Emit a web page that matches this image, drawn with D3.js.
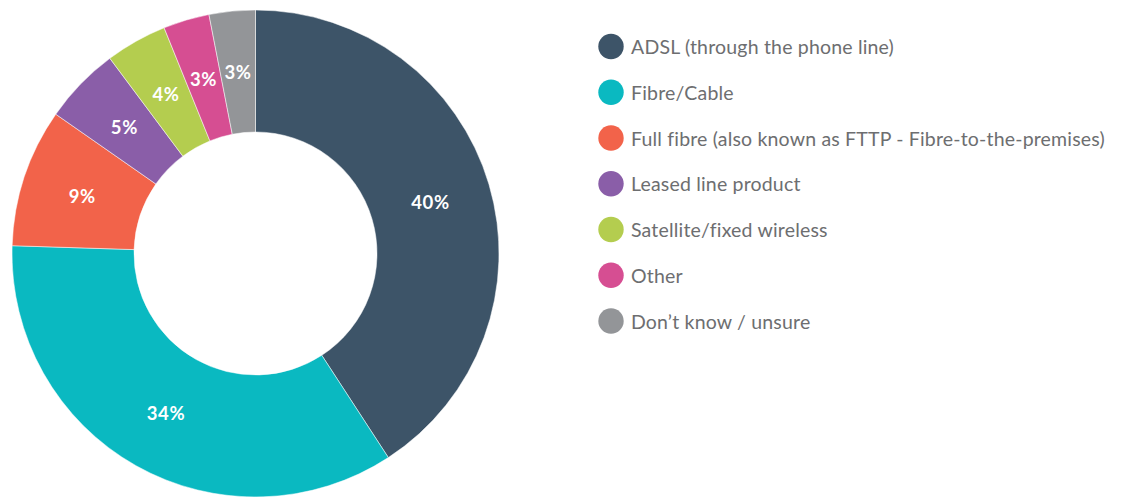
<!DOCTYPE html>
<html>
<head>
<meta charset="utf-8">
<script src="https://cdn.jsdelivr.net/npm/d3@7"></script>
<style>
  html, body { margin: 0; padding: 0; background: #fff; }
  svg { display: block; }
</style>
</head>
<body>
<svg id="chart" width="1122" height="497"></svg>
<script>
// Broadband connection type shares (%)
const categories = [
  "ADSL (through the phone line)",
  "Fibre/Cable",
  "Full fibre (also known as FTTP - Fibre-to-the-premises)",
  "Leased line product",
  "Satellite/fixed wireless",
  "Other",
  "Don\u2019t know / unsure"
];
const values = [40, 34, 9, 5, 4, 3, 3];
const colors = ["#3d5468", "#0ab9c1", "#f2634a", "#8a5ea8", "#b4cd4f", "#d64e92", "#939598"];

const svg = d3.select("#chart");
const cx = 255.5, cy = 253.5;
const outerR = 243.5, innerR = 121.5;

const data = categories.map((c, i) => ({ name: c, value: values[i], color: colors[i] }));

const pie = d3.pie().value(d => d.value).sort(null);
const arc = d3.arc().innerRadius(innerR).outerRadius(outerR);
const arcs = pie(data);

const g = svg.append("g").attr("transform", `translate(${cx},${cy})`);

g.selectAll("path.slice")
  .data(arcs)
  .join("path")
  .attr("class", "slice")
  .attr("d", arc)
  .attr("fill", d => d.data.color)
  .attr("stroke", "#ffffff")
  .attr("stroke-width", 0.5);

g.selectAll("text.pct")
  .data(arcs)
  .join("text")
  .attr("class", "pct")
  .attr("transform", d => `translate(${arc.centroid(d)})`)
  .attr("text-anchor", "middle")
  .attr("dominant-baseline", "central")
  .attr("font-family", "Lato, 'Open Sans', sans-serif")
  .attr("font-weight", 700)
  .attr("font-size", 18.5)
  .attr("letter-spacing", 0.6)
  .attr("fill", "#ffffff")
  .text(d => d.data.value + "%");

// Legend
const legend = svg.append("g").attr("transform", "translate(611,46.5)");
const rowH = 45.75;
const rows = legend.selectAll("g.row")
  .data(data)
  .join("g")
  .attr("class", "row")
  .attr("transform", (d, i) => `translate(0,${i * rowH})`);

rows.append("circle")
  .attr("r", 12.7)
  .attr("fill", d => d.color);

rows.append("text")
  .attr("x", 20)
  .attr("dominant-baseline", "central")
  .attr("font-family", "Lato, 'Open Sans', sans-serif")
  .attr("font-size", 19.5)
  .attr("letter-spacing", 0.18)
  .attr("fill", "#6d6e70")
  .text(d => d.name);
</script>
</body>
</html>
